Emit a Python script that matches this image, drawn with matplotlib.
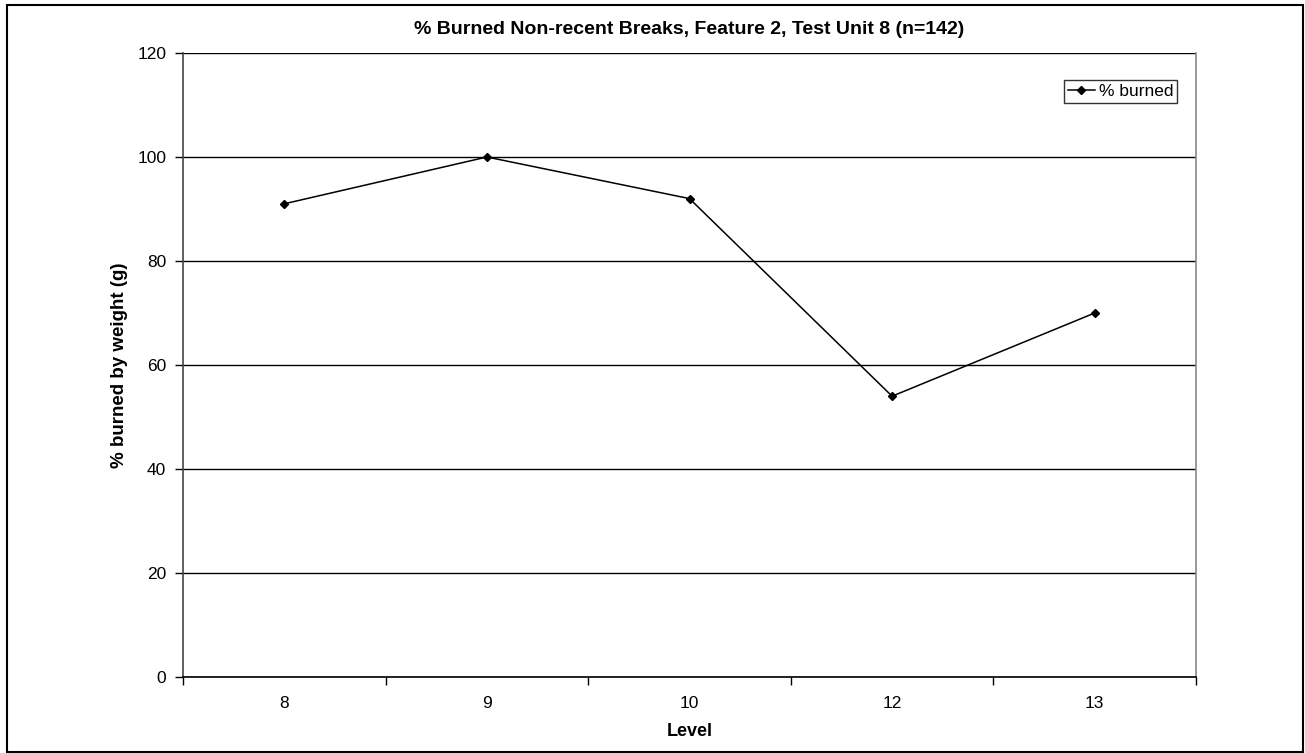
import matplotlib.pyplot as plt
from matplotlib.patches import Rectangle

plt.rcParams['font.family'] = ['Liberation Sans', 'DejaVu Sans']

# niveles excavados y porcentaje quemado
niveles = ['8', '9', '10', '12', '13']
pct_quemado = [91, 100, 92, 54, 70]
y_ticks = [0, 20, 40, 60, 80, 100, 120]

fig = plt.figure(figsize=(13.05, 7.53), dpi=100)
ax = fig.add_axes([183/1305, 1 - 677/753, (1196 - 183)/1305, (677 - 53)/753])

pos = list(range(len(niveles)))
ax.plot(pos, pct_quemado, color='black', lw=1.1, marker='D', ms=4.5,
        label='% burned', zorder=3)

ax.set_xlim(-0.5, len(niveles) - 0.5)
ax.set_ylim(0, 120)

# marcas entre categorias, etiquetas centradas
ax.set_xticks([p - 0.5 for p in range(len(niveles) + 1)])
ax.set_xticklabels([])
ax.set_xticks(pos, minor=True)
ax.set_xticklabels(niveles, minor=True)
ax.tick_params(axis='x', which='major', direction='out', length=6, width=1, color='black')
ax.tick_params(axis='x', which='minor', length=0, pad=14, labelsize=12.5)
ax.set_yticks(y_ticks)
ax.tick_params(axis='y', direction='out', length=6, width=1, color='black', labelsize=12.5, pad=6)

ax.grid(axis='y', color='black', lw=1)
ax.set_axisbelow(True)

ax.spines['top'].set_visible(False)
ax.spines['left'].set_color('#444444')
ax.spines['bottom'].set_color('black')
ax.spines['right'].set_color('#888888')
for s in ax.spines.values():
    s.set_linewidth(1.2)

ax.set_title('% Burned Non-recent Breaks, Feature 2, Test Unit 8 (n=142)',
             fontsize=14, fontweight='bold', pad=14)
ax.set_xlabel('Level', fontsize=13, fontweight='bold', labelpad=8)
ax.set_ylabel('% burned by weight (g)', fontsize=13.5, fontweight='bold', labelpad=7)

leg = ax.legend(loc='upper right', bbox_to_anchor=(0.981, 0.956), fontsize=12.5,
                frameon=True, fancybox=False, edgecolor='black', handlelength=1.6,
                handletextpad=0.2, borderpad=0.2, borderaxespad=0)
leg.get_frame().set_linewidth(1)

# marco exterior del grafico
fig.patches.append(Rectangle((7/1305, 0.001), (1303 - 7)/1305, 1 - 5/753 - 0.001,
                             transform=fig.transFigure, fill=False,
                             edgecolor='black', lw=1.5))

fig.savefig('out.png', dpi=100)
